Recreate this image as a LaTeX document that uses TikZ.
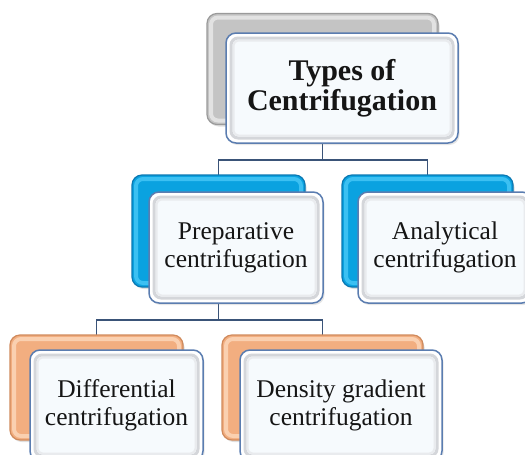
\documentclass[tikz,border=0pt]{standalone}
\usepackage{fontspec}
\setmainfont{Liberation Serif}
\usetikzlibrary{shadows}
\definecolor{grayfill}{HTML}{C4C4C4}
\definecolor{grayedge}{HTML}{9A9A9A}
\definecolor{grayring}{HTML}{E2E2E2}
\definecolor{bluefill}{HTML}{0AA2E0}
\definecolor{blueedge}{HTML}{0A78B2}
\definecolor{bluering}{HTML}{3CC0F2}
\definecolor{orangefill}{HTML}{F2AE80}
\definecolor{orangeedge}{HTML}{D08A5C}
\definecolor{orangering}{HTML}{FAD0B0}
\definecolor{frontedge}{HTML}{5B7DB0}
\definecolor{frontfill}{HTML}{F6FAFD}
\definecolor{bevelA}{HTML}{D4D6DA}
\definecolor{bevelB}{HTML}{E9EBEE}
\definecolor{conncol}{HTML}{3A5378}
\definecolor{textcol}{HTML}{151515}
\pgfdeclarelayer{background}
\pgfsetlayers{background,main}
\newcommand\ringpath[1]{([shift={(#1,-#1)}]path picture bounding box.north west) rectangle ([shift={(-#1,#1)}]path picture bounding box.south east)}
\begin{document}
\begin{tikzpicture}[x=1pt,y=-1pt,
  backbox/.style={rounded corners=10pt, line width=1.2pt, inner sep=0pt,
    drop shadow={opacity=0.25, shadow xshift=1.5pt, shadow yshift=-2pt}},
  graybox/.style={backbox, draw=grayedge, fill=grayfill,
    path picture={\draw[line width=4pt, draw=grayring, rounded corners=7pt] \ringpath{4pt};}},
  bluebox/.style={backbox, draw=blueedge, fill=bluefill,
    path picture={\draw[line width=4pt, draw=bluering, rounded corners=7pt] \ringpath{4pt};}},
  orangebox/.style={backbox, draw=orangeedge, fill=orangefill,
    path picture={\draw[line width=4pt, draw=orangering, rounded corners=7pt] \ringpath{4pt};}},
  frontbox/.style={draw=frontedge, line width=1.5pt, fill=white, rounded corners=10pt,
    inner sep=0pt, align=center, text=textcol,
    drop shadow={opacity=0.2, shadow xshift=1.5pt, shadow yshift=-2pt},
    path picture={\draw[line width=3pt, draw=bevelA, fill=frontfill, rounded corners=7pt] \ringpath{5pt};
      \draw[line width=2pt, draw=bevelB, rounded corners=5pt] \ringpath{7.5pt};}},
  regtext/.style={font=\fontsize{25.5}{28}\selectfont},
  boldtext/.style={font=\fontsize{30}{30}\selectfont\bfseries},
  conn/.style={draw=conncol, line width=1.5pt}
]
\useasboundingbox (0,0) rectangle (525,455);
\clip (0,0) rectangle (525,455);
% level 1
\node[graybox, minimum width=231, minimum height=111] (gb) at (322.5,69) {};
\node[frontbox, boldtext, minimum width=232, minimum height=110] (tf) at (342,88) {Types of\\Centrifugation};
% level 2
\node[bluebox, minimum width=173, minimum height=112] (bb1) at (218.5,231) {};
\node[frontbox, regtext, minimum width=174, minimum height=111] (pf) at (236,247.5) {Preparative\\centrifugation};
\node[bluebox, minimum width=171, minimum height=112] (bb2) at (427.5,231) {};
\node[frontbox, regtext, minimum width=174, minimum height=111] (af) at (445,247.5) {Analytical\\centrifugation};
% level 3
\node[orangebox, minimum width=173, minimum height=105] (ob1) at (96.5,387.5) {};
\node[frontbox, regtext, minimum width=173, minimum height=111] (df) at (116.5,405.5) {Differential\\centrifugation};
\node[orangebox, minimum width=201, minimum height=105] (ob2) at (322.5,387.5) {};
\node[frontbox, regtext, minimum width=202, minimum height=111] (dg) at (341,405.5) {Density gradient\\centrifugation};
% connectors
\begin{pgfonlayer}{background}
\coordinate (j1) at (322.5,160);
\coordinate (j2) at (218.5,320);
\draw[conn] (gb.center) -- (j1) -| (bb1.center);
\draw[conn] (j1) -| (bb2.center);
\draw[conn] (bb1.center) -- (j2) -| (ob1.center);
\draw[conn] (j2) -| (ob2.center);
\end{pgfonlayer}
\end{tikzpicture}
\end{document}
